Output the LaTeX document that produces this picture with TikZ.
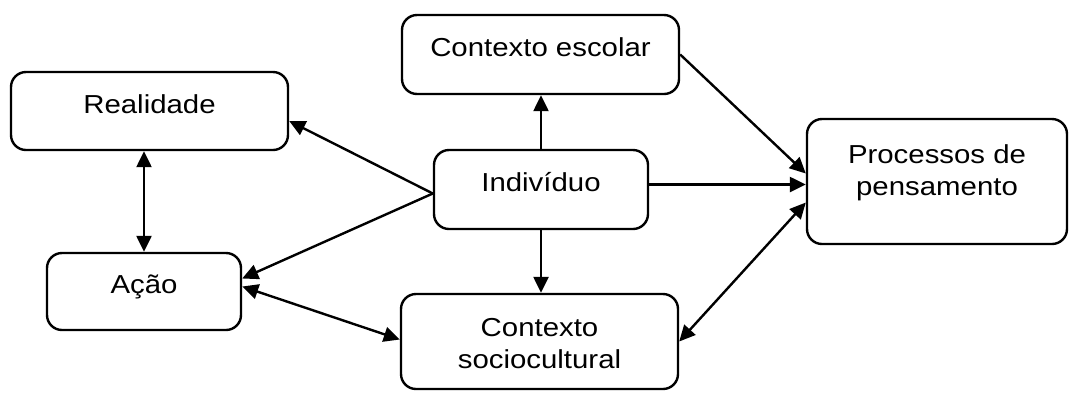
\documentclass[tikz,border=0pt]{standalone}
\usepackage{fontspec}
\setmainfont{Liberation Sans}[FakeStretch=1.13]
\usetikzlibrary{arrows.meta}
\tikzset{
  box/.style={draw, line width=2.4pt, rounded corners=15pt, align=center,
    font=\fontsize{26}{32}\selectfont, text height=18pt, text depth=14pt},
  seta/.style={line width=2.4pt, -{Triangle[length=16pt,width=15pt]}},
  setas/.style={line width=2.4pt, {Triangle[length=16pt,width=15pt]}-{Triangle[length=16pt,width=15pt]}}
}
\begin{document}
\begin{tikzpicture}[x=1pt,y=-1pt]
    \useasboundingbox (0,0) rectangle (1070,392);
    \node[box, minimum width=277pt, minimum height=78pt] (real) at (149.5,111) {Realidade};
    \node[box, minimum width=277pt, minimum height=79pt] (esc) at (540.5,54.5) {Contexto escolar};
    \node[box, minimum width=214pt, minimum height=79pt] (indiv) at (541,189.5) {Indivíduo};
    \node[box, minimum width=260pt, minimum height=125pt, text height=50pt, text depth=23pt] (proc) at (937,181.5) {Processos de\\pensamento};
    \node[box, minimum width=194pt, minimum height=77pt] (acao) at (144,291.5) {Ação};
    \node[box, minimum width=277pt, minimum height=95pt, text height=54pt, text depth=0pt] (socio) at (539.5,341.5) {Contexto\\sociocultural};
    \draw[setas] (real.south -| acao.north) -- (acao.north);
    \draw[seta] (indiv.north) -- (indiv.north |- esc.south);
    \draw[seta] (indiv.south) -- (indiv.south |- socio.north);
    \draw[seta] ([yshift=5pt]indiv.east) -- ([yshift=5pt]indiv.east -| proc.west);
    \draw[seta] (esc.east) -- ([yshift=8pt]proc.west);
    \draw[setas] (socio.east) -- ([yshift=-21pt]proc.west);
    \draw[seta] ([yshift=-4pt]indiv.west) -- ([yshift=-10pt]real.east);
    \draw[seta] ([yshift=-4pt]indiv.west) -- ([yshift=13pt]acao.east);
    \draw[setas] ([yshift=5pt]acao.east) -- ([yshift=2pt]socio.west);
\end{tikzpicture}
\end{document}
